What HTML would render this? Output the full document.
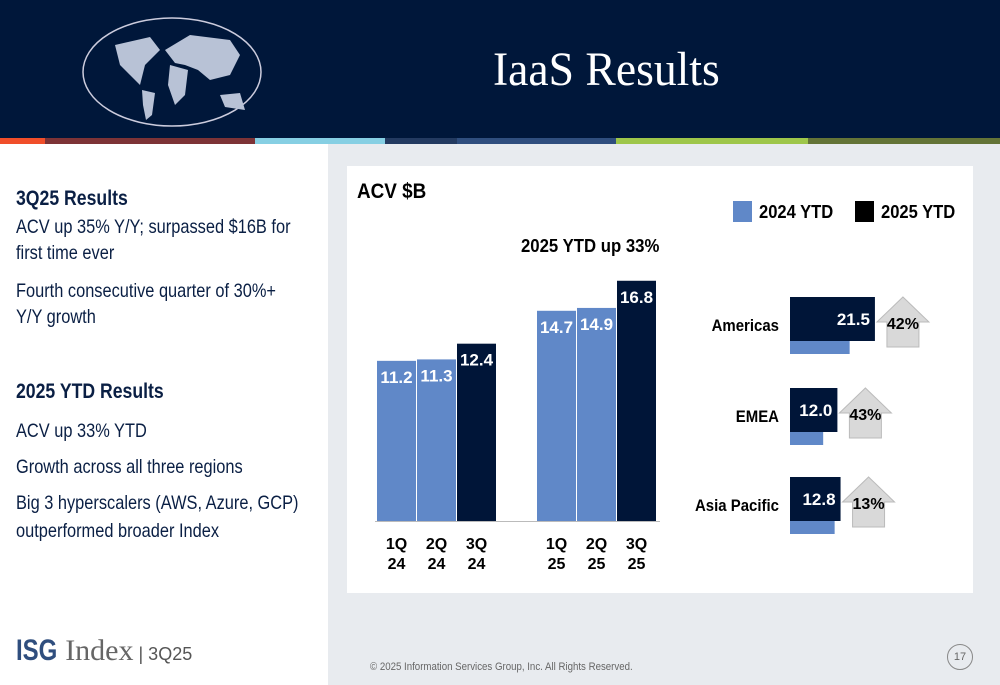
<!DOCTYPE html>
<html><head><meta charset="utf-8"><style>
body{margin:0;width:1000px;height:685px;position:relative;overflow:hidden;font-family:"Liberation Sans",sans-serif;background:#fff}
.abs{position:absolute}
.ln{position:absolute;left:16px;white-space:nowrap;font-size:19.5px;color:#0a1f44;transform:scaleX(0.84);transform-origin:0 0}
.hd{font-weight:bold;font-size:21px}
</style></head><body>
<div class="abs" style="left:0;top:0;width:1000px;height:138px;background:#00173a"></div>
<svg class="abs" style="left:80px;top:15px" width="185" height="115">
<ellipse cx="92" cy="57" rx="89" ry="54" fill="none" stroke="#ccd" stroke-width="1.5"/>
<path d="M35 30 L70 22 L80 35 L65 50 L60 70 L50 60 L40 50Z M62 75 L75 78 L72 100 L66 105 L63 90Z M85 35 L110 20 L150 25 L160 40 L150 60 L130 65 L118 55 L105 50 L95 48Z M90 50 L108 55 L105 80 L95 90 L88 70Z M140 80 L160 78 L165 95 L145 92Z" fill="#b8c2d6"/>
</svg>
<div class="abs" style="left:493px;top:42px;font-family:'Liberation Serif',serif;font-size:48px;color:#fff;transform:scaleX(0.95);transform-origin:0 0">IaaS Results</div>
<div class="abs" style="left:0;top:138px;width:45px;height:6px;background:#f04e2a"></div>
<div class="abs" style="left:45px;top:138px;width:210px;height:6px;background:#7d3336"></div>
<div class="abs" style="left:255px;top:138px;width:130px;height:6px;background:#86cfe3"></div>
<div class="abs" style="left:385px;top:138px;width:72px;height:6px;background:#233a60"></div>
<div class="abs" style="left:457px;top:138px;width:159px;height:6px;background:#2f4e7e"></div>
<div class="abs" style="left:616px;top:138px;width:192px;height:6px;background:#9ec64a"></div>
<div class="abs" style="left:808px;top:138px;width:192px;height:6px;background:#647437"></div>
<div class="abs" style="left:328px;top:144px;width:672px;height:541px;background:#e8ebef"></div>

<div>
<div class="ln hd" style="top:187px">3Q25 Results</div>
<div class="ln" style="top:216px">ACV up 35% Y/Y; surpassed $16B for</div>
<div class="ln" style="top:242px">first time ever</div>
<div class="ln" style="top:280px">Fourth consecutive quarter of 30%+</div>
<div class="ln" style="top:306px">Y/Y growth</div>
<div class="ln hd" style="top:380px">2025 YTD Results</div>
<div class="ln" style="top:420px">ACV up 33% YTD</div>
<div class="ln" style="top:456px">Growth across all three regions</div>
<div class="ln" style="top:492px">Big 3 hyperscalers (AWS, Azure, GCP)</div>
<div class="ln" style="top:520px">outperformed broader Index</div>
</div>

<div class="abs" style="left:16px;top:634px;font-size:30px;color:#2f4e7e;white-space:nowrap"><b style="display:inline-block;transform:scaleX(0.8);transform-origin:0 0;margin-right:-10px">ISG</b><span style="font-family:'Liberation Serif',serif;color:#666"> Index</span><span style="font-size:18px;color:#555"> | 3Q25</span></div>
<div class="abs" style="left:370px;top:661px;font-size:11px;color:#666;transform:scaleX(0.88);transform-origin:0 0;white-space:nowrap">© 2025 Information Services Group, Inc.  All Rights Reserved.</div>
<div class="abs" style="left:947px;top:644px;width:24px;height:24px;border:1px solid #888;border-radius:50%;text-align:center;line-height:24px;font-size:11px;color:#666">17</div>

<div class="abs" style="left:347px;top:166px;width:626px;height:427px;background:#fff"></div>
<svg id="chart" class="abs" style="left:0;top:0" width="1000" height="685" font-family="Liberation Sans, sans-serif" font-weight="bold"></svg>
<script>
const quarters=["1Q 24","2Q 24","3Q 24","1Q 25","2Q 25","3Q 25"];
const acv=[11.2,11.3,12.4,14.7,14.9,16.8];
const regions=["Americas","EMEA","Asia Pacific"];
const ytd2024=[15.1,8.4,11.3];
const ytd2025=[21.5,12.0,12.8];
const growth=["42%","43%","13%"];
const svg=document.getElementById('chart');
const NS='http://www.w3.org/2000/svg';
function mk(t,a,txt){const e=document.createElementNS(NS,t);for(const k in a)e.setAttribute(k,a[k]);if(txt!==undefined)e.textContent=txt;svg.appendChild(e);return e;}
function cond(e,f){e.setAttribute('textLength',e.getComputedTextLength()*(f||0.85));e.setAttribute('lengthAdjust','spacingAndGlyphs');}
const base=521,k=14.3;
const xs=[377,417,457,537,577,617];
const y=v=>base-v*k;
let t=mk('text',{x:357,y:198,'font-size':21,fill:'#000'},'ACV $B');cond(t,0.9);

t=mk('text',{x:521,y:252,'font-size':18,fill:'#000'},'2025 YTD up 33%');cond(t,0.93);

let r=mk('rect',{x:733,y:201,width:19,height:21,fill:'#6088c8'});

t=mk('text',{x:759,y:218,'font-size':18,fill:'#000'},'2024 YTD');cond(t,0.92);

r=mk('rect',{x:855,y:201,width:19,height:21,fill:'#000'});

t=mk('text',{x:881,y:218,'font-size':18,fill:'#000'},'2025 YTD');cond(t,0.92);

acv.forEach((v,i)=>{
 const dark=(i===2||i===5);
 const b=mk('rect',{x:xs[i],y:y(v),width:39,height:v*k,fill:dark?'#001538':'#6088c8'});
 
 
 const l=mk('text',{x:xs[i]+19.5,y:y(v)+22,'font-size':17,fill:'#fff','text-anchor':'middle'},v.toFixed(1));
 
 const p=quarters[i].split(' ');
 const a=mk('text',{x:xs[i]+19.5,y:549,'font-size':16,fill:'#000','text-anchor':'middle'},p[0]);
 
 const a2=mk('text',{x:xs[i]+19.5,y:569,'font-size':16,fill:'#000','text-anchor':'middle'},p[1]);
 
});
const ax=mk('line',{x1:375,x2:660,y1:521.5,y2:521.5,stroke:'#bbb'});

const rk=3.95,rx=790,rys=[297,388,477];
regions.forEach((n,i)=>{
 const ry=rys[i],w=ytd2025[i]*rk;
 const lb=mk('text',{x:779,y:ry+34,'font-size':17,fill:'#000','text-anchor':'end'},n);
 cond(lb,0.88);
 
 const l=mk('rect',{x:rx,y:ry+44,width:ytd2024[i]*rk,height:13,fill:'#6088c8'});
 
 const d=mk('rect',{x:rx,y:ry,width:w,height:44,fill:'#001538'});
 
 const v=mk('text',{x:rx+w-5,y:ry+28,'font-size':17,fill:'#fff','text-anchor':'end'},ytd2025[i].toFixed(1));
 
 const x0=rx+w+2,top=ry;
 const ar=mk('polygon',{points:`${x0},${top+25} ${x0+26},${top} ${x0+52},${top+25} ${x0+42},${top+25} ${x0+42},${top+50} ${x0+10},${top+50} ${x0+10},${top+25}`,fill:'#d9d9d9',stroke:'#bbb'});
 
 const g=mk('text',{x:x0+26,y:top+32,'font-size':16,fill:'#000','text-anchor':'middle'},growth[i]);
 
});
</script>
</body></html>
